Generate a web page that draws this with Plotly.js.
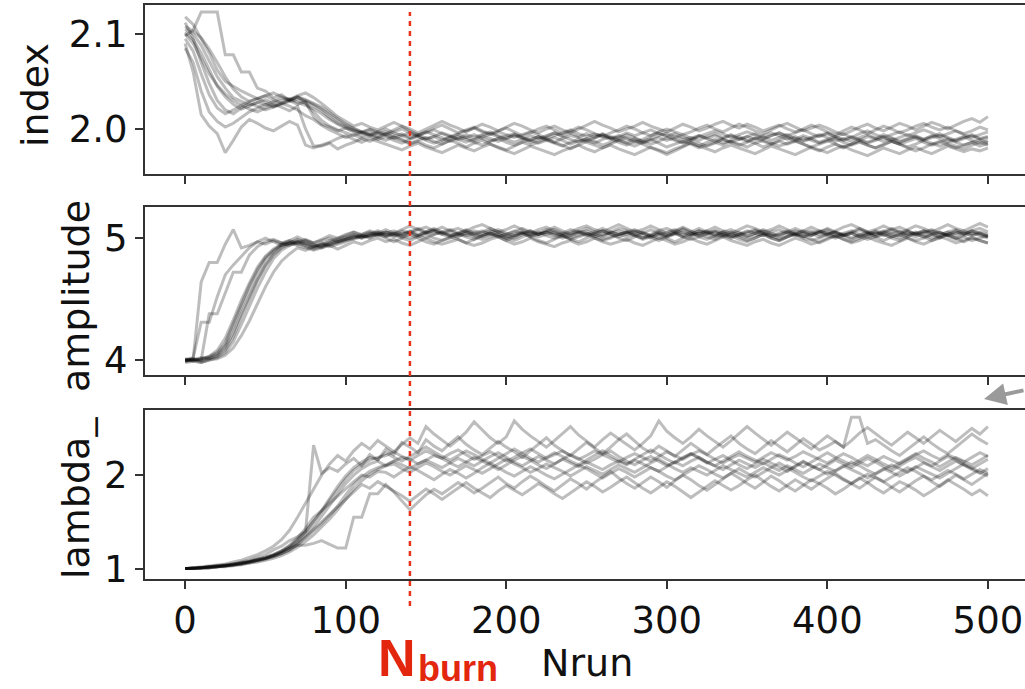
<!DOCTYPE html>
<html>
<head>
<meta charset="utf-8">
<script src="https://cdn.plot.ly/plotly-3.0.1.min.js"></script>
<style>
  html, body { margin: 0; padding: 0; background: #ffffff; }
  #chart { width: 1025px; height: 689px; }
</style>
</head>
<body>
<div id="chart"></div>
<script>
// ---------------- DATA ----------------
const STEPS = [0,5,10,15,20,25,30,35,40,45,50,55,60,65,70,75,80,85,90,95,100,105,110,115,120,125,130,135,140,145,150,155,160,165,170,175,180,185,190,195,200,205,210,215,220,225,230,235,240,245,250,255,260,265,270,275,280,285,290,295,300,305,310,315,320,325,330,335,340,345,350,355,360,365,370,375,380,385,390,395,400,405,410,415,420,425,430,435,440,445,450,455,460,465,470,475,480,485,490,495,500];

const PANEL_LABELS = ["index", "amplitude", "lambda_"];
const X_TICKS = [0, 100, 200, 300, 400, 500];
const INDEX_TICKS = [2.0, 2.1];
const INDEX_TICKTEXT = ["2.0", "2.1"];
const AMPLITUDE_TICKS = [4, 5];
const LAMBDA_TICKS = [1, 2];
const N_BURN = 140;
const X_LABEL = "Nrun";

// index walkers
const INDEX_W1 = [2.105,2.100,2.088,2.071,2.055,2.043,2.033,2.029,2.025,2.028,2.031,2.027,2.030,2.032,2.028,2.025,2.021,2.016,2.010,2.005,2.001,1.998,1.996,1.999,1.995,
1.997,1.993,1.995,1.991,1.994,1.990,1.992,1.996,1.993,1.989,1.991,1.994,1.990,1.987,1.990,1.993,1.995,1.991,1.988,1.992,1.989,1.986,1.990,1.993,1.991,
1.988,1.985,1.989,1.992,1.990,1.994,1.991,1.987,1.990,1.993,1.996,1.992,1.989,1.991,1.988,1.992,1.995,1.991,1.994,1.990,1.987,1.991,1.989,1.993,1.996,
1.992,1.989,1.993,1.990,1.986,1.989,1.992,1.995,1.991,1.988,1.992,1.990,1.994,1.991,1.987,1.990,1.993,1.989,1.992,1.995,1.991,1.988,1.991,1.994,1.990,1.992];
const INDEX_W2 = [2.112,2.095,2.070,2.048,2.030,2.020,2.016,2.022,2.027,2.024,2.020,2.023,2.026,2.029,2.031,2.027,2.018,2.009,2.003,1.999,1.996,1.993,1.997,1.994,1.991,
1.988,1.992,1.989,1.985,1.988,1.991,1.987,1.984,1.988,1.992,1.989,1.986,1.983,1.987,1.990,1.986,1.983,1.986,1.989,1.992,1.988,1.985,1.982,1.986,1.989,
1.986,1.983,1.980,1.984,1.988,1.985,1.982,1.986,1.989,1.985,1.981,1.984,1.987,1.984,1.980,1.983,1.986,1.983,1.987,1.984,1.981,1.985,1.988,1.985,1.982,
1.985,1.988,1.984,1.981,1.984,1.987,1.990,1.986,1.983,1.986,1.983,1.980,1.983,1.987,1.984,1.981,1.984,1.988,1.985,1.982,1.985,1.982,1.979,1.983,1.986,1.983];
const INDEX_W3 = [2.098,2.104,2.123,2.123,2.123,2.078,2.078,2.060,2.060,2.043,2.040,2.033,2.036,2.030,2.034,2.028,2.013,2.005,2.002,1.998,2.001,1.997,1.993,1.996,1.992,
1.995,1.999,2.003,1.998,1.994,1.997,2.001,2.004,2.000,1.996,1.999,2.002,1.998,1.995,1.998,2.001,1.997,1.993,1.996,2.000,2.003,1.999,1.995,1.998,2.002,
1.999,1.995,1.992,1.996,1.999,2.003,2.000,1.996,1.993,1.997,2.000,1.997,1.994,1.997,2.001,2.004,2.000,1.997,2.001,2.005,2.002,1.998,1.995,1.999,2.003,
2.006,2.002,1.998,2.001,2.004,2.001,1.997,1.994,1.998,2.002,2.005,2.001,1.998,2.002,2.006,2.003,1.999,2.003,2.007,2.004,2.000,2.004,2.008,2.011,2.007,2.013];
const INDEX_W4 = [2.090,2.060,2.015,2.003,1.995,1.975,1.988,2.002,2.010,2.006,2.001,1.998,2.003,2.008,2.004,1.983,1.980,1.983,1.986,1.990,1.993,1.989,1.986,1.990,1.987,
1.984,1.981,1.978,1.982,1.985,1.981,1.978,1.975,1.979,1.983,1.980,1.977,1.981,1.984,1.980,1.977,1.974,1.978,1.982,1.979,1.976,1.973,1.977,1.980,1.983,
1.979,1.976,1.980,1.983,1.979,1.976,1.973,1.977,1.981,1.978,1.975,1.979,1.982,1.986,1.982,1.979,1.976,1.980,1.983,1.980,1.977,1.974,1.978,1.982,1.979,
1.976,1.973,1.977,1.981,1.978,1.975,1.979,1.982,1.978,1.975,1.972,1.976,1.980,1.977,1.974,1.978,1.981,1.977,1.974,1.978,1.982,1.979,1.976,1.979,1.977,1.980];
const INDEX_W5 = [2.102,2.094,2.080,2.062,2.045,2.034,2.026,2.021,2.024,2.028,2.025,2.029,2.033,2.030,2.026,2.029,2.024,2.019,2.012,2.006,2.002,1.999,1.996,1.993,1.996,
1.993,1.990,1.993,1.996,1.992,1.989,1.992,1.988,1.991,1.994,1.991,1.988,1.991,1.995,1.992,1.989,1.986,1.989,1.993,1.990,1.993,1.996,1.992,1.989,1.986,
1.989,1.992,1.995,1.991,1.988,1.991,1.988,1.985,1.988,1.991,1.988,1.991,1.994,1.990,1.993,1.990,1.987,1.990,1.993,1.989,1.992,1.995,1.992,1.988,1.991,
1.994,1.990,1.987,1.990,1.993,1.996,1.992,1.989,1.992,1.989,1.986,1.989,1.992,1.988,1.991,1.994,1.991,1.988,1.991,1.993,1.990,1.987,1.990,1.993,1.989,1.991];
const INDEX_W6 = [2.108,2.103,2.096,2.084,2.070,2.055,2.042,2.034,2.029,2.032,2.035,2.031,2.027,2.030,2.033,2.030,2.026,2.021,2.015,2.009,2.004,2.000,1.997,2.000,1.997,
1.994,1.997,2.000,1.996,1.993,1.996,1.999,1.995,1.992,1.995,1.998,2.001,1.997,1.994,1.997,1.994,1.991,1.994,1.997,1.994,1.990,1.993,1.996,1.999,1.995,
1.992,1.995,1.992,1.989,1.992,1.996,1.993,1.996,1.999,1.995,1.992,1.995,1.991,1.988,1.992,1.995,1.998,1.995,1.991,1.994,1.997,1.994,1.990,1.993,1.996,
1.993,1.996,1.999,1.995,1.992,1.995,1.991,1.988,1.991,1.995,1.998,1.994,1.991,1.994,1.997,1.993,1.996,1.999,1.996,1.992,1.995,1.998,1.994,1.991,1.994,1.997];
const INDEX_W7 = [2.095,2.082,2.058,2.036,2.022,2.016,2.020,2.025,2.021,2.018,2.022,2.026,2.023,2.019,2.024,2.000,1.982,1.982,1.985,1.979,1.983,1.986,1.990,1.987,1.991,
1.995,1.991,1.988,1.984,1.987,1.983,1.980,1.984,1.988,1.985,1.981,1.985,1.988,1.984,1.981,1.978,1.982,1.986,1.983,1.986,1.990,1.986,1.983,1.979,1.983,
1.987,1.990,1.994,1.990,1.986,1.983,1.987,1.984,1.980,1.977,1.973,1.977,1.981,1.985,1.982,1.986,1.989,1.985,1.988,1.992,1.988,1.985,1.981,1.984,1.988,
1.991,1.987,1.984,1.980,1.977,1.981,1.984,1.980,1.984,1.987,1.983,1.980,1.984,1.987,1.984,1.980,1.977,1.980,1.984,1.987,1.983,1.980,1.983,1.986,1.982,1.985];
const INDEX_W8 = [2.100,2.090,2.074,2.058,2.046,2.037,2.030,2.025,2.029,2.032,2.028,2.024,2.027,2.031,2.034,2.031,2.027,2.023,2.017,2.011,2.005,2.001,1.997,1.994,1.997,
2.000,1.996,1.993,1.990,1.993,1.997,1.994,1.991,1.987,1.990,1.994,1.991,1.994,1.997,1.993,1.990,1.993,1.990,1.986,1.989,1.992,1.996,1.993,1.996,1.992,
1.995,1.991,1.994,1.990,1.993,1.990,1.986,1.989,1.993,1.996,1.993,1.989,1.986,1.989,1.993,1.990,1.993,1.989,1.986,1.989,1.992,1.989,1.993,1.996,1.993,
1.989,1.992,1.988,1.991,1.994,1.991,1.987,1.990,1.987,1.991,1.994,1.990,1.987,1.990,1.986,1.989,1.992,1.989,1.993,1.990,1.986,1.989,1.992,1.988,1.985,1.988];
const INDEX_W9 = [2.085,2.070,2.040,2.018,2.008,2.002,2.006,2.012,2.018,2.022,2.026,2.023,2.027,2.024,2.020,2.014,2.010,2.004,1.999,1.995,1.991,1.994,1.990,1.993,1.989,
1.992,1.988,1.985,1.989,1.992,1.988,1.985,1.988,1.992,1.989,1.986,1.989,1.993,1.990,1.987,1.990,1.994,1.991,1.988,1.985,1.988,1.991,1.988,1.984,1.987,
1.990,1.987,1.983,1.986,1.989,1.986,1.990,1.987,1.984,1.987,1.991,1.988,1.985,1.988,1.985,1.982,1.985,1.989,1.986,1.983,1.986,1.990,1.987,1.984,1.987,
1.984,1.987,1.991,1.988,1.985,1.988,1.984,1.981,1.984,1.988,1.985,1.988,1.991,1.987,1.984,1.987,1.990,1.986,1.983,1.986,1.989,1.986,1.983,1.986,1.989,1.985];
const INDEX_W10 = [2.118,2.110,2.095,2.080,2.062,2.050,2.045,2.040,2.036,2.032,2.035,2.038,2.034,2.031,2.035,2.038,2.033,2.027,2.020,2.013,2.008,2.003,2.006,2.002,1.999,
2.003,2.007,2.003,2.000,1.996,2.000,2.004,2.008,2.004,2.001,1.997,2.001,2.005,2.002,1.998,2.002,2.006,2.003,1.999,1.996,2.000,2.003,1.999,1.996,2.000,
2.004,2.008,2.004,2.001,1.997,2.000,2.003,2.007,2.003,2.000,1.997,2.001,2.005,2.002,1.998,2.001,2.005,2.008,2.004,2.001,2.005,2.002,1.998,2.001,2.004,
2.000,1.997,2.000,2.004,2.001,1.997,1.994,1.998,2.002,1.999,1.995,1.999,2.003,2.000,1.996,1.999,2.003,2.006,2.002,1.999,2.002,1.998,1.995,1.998,2.002,1.999];

// amplitude walkers
const AMP_W1 = [4.00,3.99,4.01,4.02,4.05,4.12,4.27,4.43,4.57,4.71,4.82,4.89,4.95,4.97,4.95,4.96,4.94,4.92,4.94,4.96,4.98,4.99,5.01,5.02,5.03,
5.05,5.03,5.06,5.04,5.02,5.05,5.07,5.04,5.02,5.04,5.06,5.03,5.01,5.03,5.05,5.03,5.06,5.04,5.01,5.03,5.05,5.07,5.04,5.02,5.04,
5.06,5.03,5.01,5.04,5.06,5.03,5.05,5.02,5.00,5.03,5.05,5.07,5.04,5.02,5.04,5.06,5.03,5.01,5.03,5.05,5.02,5.04,5.06,5.03,5.01,
5.03,5.06,5.04,5.02,5.05,5.07,5.04,5.02,5.04,5.01,5.03,5.05,5.02,5.04,5.06,5.03,5.01,5.04,5.06,5.03,5.05,5.02,5.04,5.06,5.03,5.01];
const AMP_W2 = [4.00,4.01,4.64,4.80,4.80,4.95,5.07,4.92,4.94,4.97,4.95,4.98,4.96,4.94,4.97,4.99,4.96,4.98,5.00,4.97,4.99,5.02,5.00,5.03,5.05,
5.02,5.04,5.07,5.10,5.07,5.04,5.06,5.09,5.06,5.03,5.06,5.09,5.11,5.08,5.05,5.07,5.10,5.07,5.04,5.07,5.09,5.06,5.03,5.05,5.08,
5.10,5.07,5.05,5.08,5.11,5.08,5.05,5.07,5.10,5.07,5.04,5.06,5.09,5.06,5.03,5.06,5.09,5.06,5.04,5.07,5.10,5.08,5.05,5.07,5.10,
5.07,5.04,5.06,5.09,5.06,5.03,5.06,5.09,5.11,5.08,5.05,5.07,5.10,5.07,5.04,5.07,5.10,5.08,5.05,5.08,5.11,5.08,5.06,5.09,5.12,5.09];
const AMP_W3 = [3.99,4.00,3.98,4.00,4.02,4.06,4.15,4.29,4.44,4.59,4.72,4.83,4.90,4.94,4.96,4.93,4.91,4.93,4.95,4.97,4.99,5.00,5.02,5.01,5.03,
5.01,5.03,5.00,4.98,5.01,5.03,5.00,4.98,5.00,5.02,5.04,5.01,4.99,5.01,5.03,5.00,4.98,5.01,5.03,5.05,5.02,5.00,5.02,4.99,5.01,
5.03,5.00,4.98,5.00,5.03,5.05,5.02,4.99,5.01,5.03,5.00,4.97,5.00,5.02,5.04,5.01,4.99,5.02,5.04,5.01,4.98,5.00,5.03,5.00,4.98,
5.01,5.03,5.00,4.98,5.00,5.03,5.05,5.02,4.99,5.02,5.04,5.01,4.98,5.01,5.03,5.00,4.98,5.00,5.03,5.05,5.02,4.99,5.01,4.98,5.00,5.02];
const AMP_W4 = [4.00,4.02,4.31,4.31,4.52,4.70,4.78,4.85,4.92,4.97,5.00,4.97,4.94,4.96,4.99,4.96,4.93,4.95,4.98,5.00,5.02,5.05,5.03,5.06,5.04,
5.07,5.04,5.01,5.04,5.07,5.09,5.06,5.03,5.06,5.08,5.05,5.02,5.05,5.08,5.05,5.02,5.00,5.03,5.06,5.03,5.06,5.09,5.06,5.03,5.05,
5.08,5.05,5.02,5.05,5.08,5.06,5.03,5.00,5.03,5.06,5.08,5.05,5.02,5.05,5.08,5.05,5.02,5.05,5.07,5.04,5.01,5.04,5.07,5.04,5.02,
5.05,5.08,5.05,5.02,5.05,5.08,5.05,5.02,5.04,5.07,5.04,5.01,5.04,5.07,5.09,5.06,5.03,5.06,5.03,5.00,5.03,5.06,5.03,5.06,5.08,5.05];
const AMP_W5 = [4.01,4.00,4.02,4.01,4.04,4.10,4.22,4.38,4.52,4.66,4.78,4.87,4.93,4.96,4.98,4.95,4.93,4.95,4.93,4.95,4.97,5.00,5.02,5.04,5.02,
5.04,5.06,5.03,5.05,5.08,5.05,5.03,5.05,5.02,5.04,5.07,5.04,5.02,5.05,5.07,5.04,5.02,5.04,5.06,5.03,5.05,5.02,5.04,5.07,5.05,
5.02,5.04,5.06,5.03,5.01,5.04,5.06,5.04,5.07,5.04,5.02,5.04,5.01,5.03,5.06,5.04,5.06,5.03,5.01,5.03,5.06,5.04,5.02,5.05,5.07,
5.04,5.02,5.04,5.06,5.03,5.05,5.02,5.04,5.06,5.03,5.01,5.04,5.06,5.04,5.02,5.05,5.03,5.05,5.07,5.04,5.02,5.04,5.06,5.03,5.05,5.03];
const AMP_W6 = [3.98,3.99,3.98,4.00,4.01,4.04,4.10,4.20,4.32,4.46,4.60,4.72,4.81,4.87,4.92,4.90,4.93,4.96,4.94,4.91,4.94,4.97,4.95,4.98,5.00,
4.97,4.99,4.96,4.94,4.97,5.00,4.97,4.95,4.97,4.99,4.96,4.94,4.96,4.99,5.01,4.98,4.95,4.97,5.00,4.97,4.95,4.93,4.96,4.98,4.95,
4.97,5.00,4.97,4.95,4.97,4.99,4.96,4.94,4.97,5.00,4.98,4.95,4.97,5.00,4.97,4.95,4.98,5.01,4.98,4.96,4.94,4.97,4.99,4.96,4.94,
4.97,5.00,4.98,4.95,4.97,5.00,5.02,4.99,4.96,4.98,5.01,4.98,4.96,4.94,4.97,5.00,4.97,4.95,4.98,5.01,4.99,4.96,4.98,5.01,4.98,4.96];
const AMP_W7 = [4.00,4.01,4.00,4.03,4.08,4.18,4.33,4.49,4.63,4.76,4.85,4.91,4.95,4.98,4.96,4.98,4.95,4.93,4.96,4.98,5.00,5.03,5.01,5.03,5.06,
5.03,5.01,5.03,5.05,5.02,5.00,5.03,5.05,5.07,5.04,5.02,5.04,5.06,5.03,5.01,5.03,5.05,5.08,5.05,5.03,5.05,5.03,5.00,5.02,5.05,
5.03,5.05,5.08,5.05,5.03,5.05,5.02,5.00,5.02,5.05,5.03,5.05,5.08,5.05,5.02,5.04,5.06,5.04,5.01,5.03,5.05,5.07,5.04,5.02,5.04,
5.06,5.03,5.01,5.04,5.06,5.04,5.01,5.03,5.05,5.08,5.05,5.03,5.05,5.02,5.00,5.03,5.05,5.03,5.00,5.02,5.05,5.07,5.04,5.02,5.04,5.01];
const AMP_W8 = [3.99,4.00,4.00,4.38,4.38,4.55,4.72,4.72,4.86,4.93,4.97,4.99,4.96,4.98,5.01,4.98,4.96,4.99,5.02,5.00,5.03,5.05,5.02,5.00,5.03,
5.00,4.97,5.00,5.03,5.00,4.97,4.95,4.98,5.01,4.99,4.96,4.99,5.02,5.04,5.01,4.98,5.01,5.04,5.01,4.98,4.96,4.99,5.02,4.99,4.97,
5.00,5.03,5.06,5.03,5.00,4.98,5.01,5.04,5.01,4.98,5.01,5.04,5.07,5.04,5.01,4.99,5.02,5.05,5.02,4.99,4.97,5.00,5.03,5.00,4.98,
5.01,5.04,5.02,4.99,4.96,4.99,5.02,4.99,4.97,5.00,5.03,5.06,5.03,5.00,4.98,5.01,5.04,5.01,4.98,5.00,5.03,5.00,4.97,5.00,4.98,4.96];
const AMP_W9 = [4.00,4.00,4.01,4.03,4.06,4.14,4.30,4.46,4.61,4.74,4.84,4.90,4.94,4.96,4.94,4.92,4.90,4.92,4.95,4.97,4.99,5.01,5.03,5.05,5.03,
5.05,5.02,5.04,5.06,5.03,5.05,5.08,5.05,5.03,5.01,5.04,5.06,5.04,5.06,5.03,5.01,5.03,5.05,5.02,5.04,5.07,5.04,5.02,5.04,5.06,
5.04,5.01,5.03,5.05,5.03,5.05,5.07,5.04,5.02,5.04,5.01,5.03,5.05,5.03,5.06,5.04,5.01,5.03,5.05,5.02,5.04,5.06,5.04,5.01,5.03,
5.05,5.03,5.06,5.04,5.01,5.03,5.05,5.03,5.00,5.03,5.05,5.03,5.05,5.08,5.05,5.02,5.04,5.06,5.04,5.01,5.03,5.05,5.03,5.06,5.04,5.02];
const AMP_W10 = [3.99,4.01,3.99,4.01,4.03,4.08,4.19,4.35,4.50,4.65,4.77,4.86,4.92,4.95,4.97,4.94,4.92,4.94,4.97,4.99,5.01,5.02,5.00,5.02,5.04,
5.02,5.04,5.02,5.00,5.02,5.04,5.06,5.03,5.01,5.03,5.01,4.99,5.02,5.04,5.02,5.00,5.02,5.05,5.03,5.01,5.03,5.05,5.02,5.00,5.02,
5.04,5.02,4.99,5.01,5.03,5.01,5.03,5.05,5.02,5.00,5.02,5.04,5.01,4.99,5.01,5.03,5.05,5.02,5.00,5.02,5.00,5.02,5.04,5.02,4.99,
5.01,5.03,5.01,5.03,5.05,5.02,5.00,5.02,5.04,5.01,4.99,5.01,5.03,5.01,5.03,5.06,5.03,5.01,5.03,5.05,5.02,5.00,5.02,5.04,5.02,5.00];

// lambda_ walkers
const LAM_W1 = [1.00,1.00,1.01,1.01,1.02,1.03,1.04,1.05,1.06,1.08,1.10,1.13,1.16,1.20,1.26,1.33,1.40,1.48,1.57,1.67,1.79,1.90,1.98,2.04,2.08,
2.11,2.15,2.19,2.17,2.12,2.16,2.21,2.18,2.13,2.09,2.14,2.19,2.15,2.20,2.24,2.19,2.14,2.10,2.15,2.20,2.16,2.12,2.17,2.22,2.18,
2.13,2.17,2.22,2.26,2.20,2.15,2.11,2.16,2.20,2.15,2.10,2.14,2.19,2.23,2.18,2.13,2.17,2.21,2.16,2.11,2.07,2.12,2.17,2.13,2.09,
2.04,2.09,2.14,2.10,2.06,2.11,2.16,2.12,2.08,2.13,2.18,2.14,2.09,2.05,2.10,2.15,2.19,2.14,2.10,2.15,2.20,2.16,2.11,2.07,2.12,2.17];
const LAM_W2 = [1.00,1.01,1.01,1.02,1.03,1.04,1.05,1.07,1.09,1.12,1.15,1.20,1.24,1.30,1.34,1.40,2.32,2.02,2.08,2.04,2.12,2.18,2.10,2.22,2.16,
2.28,2.22,2.35,2.30,2.24,2.38,2.31,2.26,2.34,2.41,2.33,2.27,2.22,2.29,2.36,2.30,2.25,2.19,2.26,2.33,2.40,2.32,2.26,2.21,2.28,
2.35,2.29,2.23,2.30,2.38,2.44,2.36,2.29,2.24,2.31,2.26,2.20,2.27,2.34,2.28,2.22,2.29,2.36,2.42,2.34,2.28,2.23,2.30,2.37,2.31,
2.25,2.32,2.39,2.33,2.27,2.31,2.36,2.30,2.62,2.62,2.34,2.38,2.32,2.26,2.21,2.28,2.35,2.41,2.34,2.28,2.23,2.30,2.37,2.44,2.38,2.33];
const LAM_W3 = [1.00,1.00,1.00,1.01,1.02,1.02,1.03,1.04,1.06,1.07,1.09,1.11,1.14,1.18,1.23,1.29,1.36,1.44,1.53,1.63,1.74,1.85,1.94,2.01,2.06,
2.10,2.12,2.07,2.03,2.08,2.13,2.09,2.04,2.00,2.05,2.10,2.06,2.02,2.07,2.12,2.17,2.12,2.08,2.03,2.07,2.12,2.08,2.04,1.99,2.04,
2.09,2.05,2.01,2.06,2.11,2.07,2.03,2.08,2.13,2.17,2.12,2.07,2.03,2.08,2.04,2.00,2.05,2.10,2.06,2.02,1.98,2.03,2.08,2.04,2.00,
2.05,2.10,2.15,2.10,2.06,2.01,2.05,2.10,2.06,2.02,1.97,2.02,2.07,2.03,1.99,2.04,2.09,2.05,2.01,1.97,2.02,2.07,2.12,2.08,2.03,1.99];
const LAM_W4 = [1.00,1.00,1.01,1.01,1.02,1.03,1.04,1.05,1.07,1.09,1.11,1.14,1.18,1.22,1.25,1.25,1.27,1.30,1.26,1.22,1.22,1.55,1.55,1.80,1.80,
1.90,1.82,1.72,1.63,1.71,1.79,1.85,1.80,1.86,1.92,1.87,1.81,1.86,1.92,1.98,1.91,1.86,1.93,1.99,1.94,1.88,1.83,1.90,1.96,1.91,
1.85,1.92,1.98,2.04,1.97,1.91,1.86,1.92,1.98,1.93,1.87,1.94,2.00,1.95,1.89,1.84,1.90,1.96,2.02,1.97,1.91,1.86,1.93,1.99,1.94,
1.88,1.83,1.89,1.95,1.91,1.86,1.80,1.85,1.91,1.97,1.92,1.86,1.81,1.87,1.93,1.89,1.84,1.78,1.83,1.89,1.95,1.90,1.85,1.79,1.84,1.78];
const LAM_W5 = [1.00,1.01,1.01,1.02,1.03,1.04,1.05,1.06,1.08,1.10,1.12,1.15,1.19,1.24,1.31,1.40,1.50,1.61,1.73,1.85,1.96,2.05,2.11,2.16,2.19,
2.21,2.25,2.20,2.16,2.21,2.26,2.22,2.18,2.23,2.27,2.22,2.17,2.21,2.25,2.20,2.15,2.19,2.24,2.28,2.23,2.18,2.22,2.26,2.21,2.17,
2.21,2.26,2.22,2.18,2.14,2.19,2.23,2.19,2.15,2.20,2.25,2.21,2.17,2.22,2.26,2.22,2.17,2.13,2.18,2.22,2.18,2.14,2.19,2.24,2.20,
2.16,2.20,2.25,2.21,2.17,2.13,2.18,2.23,2.19,2.14,2.10,2.15,2.20,2.16,2.12,2.17,2.22,2.26,2.21,2.17,2.22,2.18,2.14,2.19,2.24,2.20];
const LAM_W6 = [1.00,1.01,1.02,1.03,1.04,1.05,1.07,1.09,1.12,1.15,1.19,1.24,1.31,1.41,1.55,1.70,1.86,2.00,2.12,2.21,2.15,2.26,2.34,2.28,2.37,
2.31,2.25,2.33,2.40,2.34,2.52,2.44,2.37,2.31,2.38,2.46,2.57,2.48,2.40,2.34,2.41,2.58,2.49,2.42,2.36,2.30,2.37,2.45,2.52,2.43,
2.36,2.30,2.38,2.45,2.39,2.33,2.27,2.34,2.42,2.58,2.47,2.40,2.34,2.41,2.49,2.42,2.36,2.30,2.37,2.44,2.52,2.45,2.38,2.32,2.39,
2.46,2.40,2.34,2.28,2.35,2.42,2.36,2.30,2.37,2.45,2.51,2.44,2.38,2.32,2.39,2.46,2.40,2.34,2.41,2.48,2.42,2.36,2.43,2.50,2.44,2.52];
const LAM_W7 = [1.00,1.00,1.01,1.02,1.02,1.03,1.04,1.06,1.07,1.09,1.11,1.13,1.16,1.20,1.26,1.34,1.42,1.50,1.58,1.66,1.74,1.82,1.90,1.86,1.93,
1.88,1.83,1.78,1.72,1.79,1.85,1.80,1.74,1.80,1.86,1.92,1.86,1.81,1.76,1.83,1.89,1.84,1.79,1.85,1.91,1.86,1.80,1.75,1.81,1.87,
1.93,1.88,1.82,1.87,1.93,1.98,1.92,1.86,1.81,1.87,1.93,1.88,1.82,1.76,1.82,1.88,1.94,1.89,1.84,1.89,1.95,2.00,1.94,1.88,1.83,
1.89,1.95,1.90,1.85,1.91,1.97,2.02,1.96,1.91,1.86,1.92,1.98,1.93,1.87,1.82,1.88,1.94,1.99,1.93,1.88,1.94,2.00,1.95,1.90,1.96,2.02];
const LAM_W8 = [1.00,1.00,1.01,1.01,1.02,1.03,1.04,1.05,1.07,1.09,1.11,1.14,1.17,1.22,1.28,1.36,1.45,1.56,1.68,1.80,1.91,2.00,2.07,2.12,2.15,
2.10,2.15,2.11,2.07,2.12,2.16,2.12,2.08,2.13,2.18,2.14,2.10,2.15,2.11,2.06,2.11,2.16,2.20,2.16,2.11,2.07,2.12,2.17,2.13,2.09,
2.14,2.10,2.06,2.11,2.15,2.11,2.16,2.12,2.08,2.04,2.09,2.14,2.10,2.15,2.19,2.14,2.10,2.06,2.11,2.16,2.12,2.08,2.13,2.09,2.05,
2.10,2.06,2.02,2.07,2.12,2.08,2.04,2.09,2.14,2.10,2.05,2.01,2.06,2.11,2.07,2.03,2.08,2.13,2.09,2.05,2.10,2.15,2.11,2.06,2.02,2.07];
const LAM_W9 = [1.00,1.00,1.01,1.02,1.02,1.03,1.05,1.06,1.08,1.10,1.12,1.15,1.19,1.25,1.33,1.43,1.55,1.62,1.70,1.78,1.86,1.93,2.00,1.98,2.04,
2.03,1.98,2.04,2.09,2.05,2.00,1.95,2.01,2.06,2.02,1.97,2.02,2.08,2.13,2.08,2.03,1.99,2.04,2.09,2.05,2.00,1.96,2.01,2.06,2.11,
2.07,2.02,1.97,2.02,2.07,2.03,1.98,2.03,2.08,2.04,1.99,1.95,2.00,2.05,2.10,2.06,2.01,1.97,2.02,2.07,2.02,1.98,2.03,2.08,2.13,
2.08,2.03,1.98,1.94,1.99,2.04,2.00,1.95,1.91,1.96,2.01,1.97,1.93,1.98,2.03,2.08,2.04,1.99,1.95,2.00,2.05,2.01,1.96,2.01,2.06,2.02];
const LAM_W10 = [1.00,1.01,1.01,1.02,1.03,1.03,1.04,1.06,1.07,1.09,1.11,1.14,1.18,1.23,1.30,1.39,1.50,1.62,1.75,1.88,1.99,2.08,2.14,2.19,2.17,
2.24,2.19,2.15,2.20,2.25,2.30,2.25,2.20,2.16,2.21,2.26,2.22,2.17,2.13,2.18,2.23,2.28,2.23,2.18,2.14,2.19,2.24,2.20,2.15,2.11,
2.16,2.21,2.26,2.21,2.16,2.12,2.17,2.22,2.27,2.22,2.17,2.13,2.18,2.23,2.19,2.14,2.10,2.15,2.20,2.25,2.20,2.16,2.12,2.17,2.22,
2.18,2.13,2.09,2.14,2.19,2.24,2.19,2.15,2.11,2.16,2.21,2.17,2.12,2.08,2.13,2.18,2.23,2.18,2.14,2.09,2.14,2.19,2.15,2.11,2.16,2.21];

const INDEX_WALKERS = [INDEX_W1, INDEX_W2, INDEX_W3, INDEX_W4, INDEX_W5, INDEX_W6, INDEX_W7, INDEX_W8, INDEX_W9, INDEX_W10];
const AMP_WALKERS = [AMP_W1, AMP_W2, AMP_W3, AMP_W4, AMP_W5, AMP_W6, AMP_W7, AMP_W8, AMP_W9, AMP_W10];
const LAM_WALKERS = [LAM_W1, LAM_W2, LAM_W3, LAM_W4, LAM_W5, LAM_W6, LAM_W7, LAM_W8, LAM_W9, LAM_W10];

// ---------------- STYLE ----------------
const W = 1025, H = 689, ML = 145;
const px2x = p => (p - ML) / (W - ML);
const py2y = p => 1 - p / H;
const LINE_COLOR = 'rgba(0,0,0,0.26)';
const SPINE = '#333333';
const FONT = 'DejaVu Sans, sans-serif';

const traces = [];
[[INDEX_WALKERS, 'x', 'y'], [AMP_WALKERS, 'x2', 'y2'], [LAM_WALKERS, 'x3', 'y3']].forEach(([walkers, xa, ya]) => {
  walkers.forEach(w => {
    traces.push({
      type: 'scatter', mode: 'lines', x: STEPS, y: w, xaxis: xa, yaxis: ya,
      line: {color: LINE_COLOR, width: 3}, hoverinfo: 'skip', showlegend: false
    });
  });
});

function xAxis(anchor, showLabels) {
  return {
    anchor: anchor, range: [-25, 523.1], tickvals: X_TICKS, ticktext: X_TICKS.map(String),
    showticklabels: showLabels, ticks: 'outside', ticklen: 8, tickwidth: 2, tickcolor: SPINE,
    showline: true, linecolor: SPINE, linewidth: 2, mirror: true,
    showgrid: false, zeroline: false, fixedrange: true,
    tickfont: {family: FONT, size: 37, color: '#111'}
  };
}
function yAxis(domain, range, vals, text) {
  return {
    domain: domain, range: range, tickvals: vals, ticktext: text,
    ticks: 'outside', ticklen: 8, tickwidth: 2, tickcolor: SPINE,
    showline: true, linecolor: SPINE, linewidth: 2, mirror: false,
    showgrid: false, zeroline: false, fixedrange: true,
    tickfont: {family: FONT, size: 37, color: '#111'}
  };
}

const layout = {
  width: W, height: H,
  margin: {l: ML, r: 0, t: 0, b: 0, pad: 0},
  paper_bgcolor: '#ffffff', plot_bgcolor: '#ffffff',
  showlegend: false, hovermode: false,
  xaxis: xAxis('y', false),
  xaxis2: xAxis('y2', false),
  xaxis3: xAxis('y3', true),
  yaxis: yAxis([py2y(174), py2y(5)], [1.9526, 2.1305], INDEX_TICKS, INDEX_TICKTEXT),
  yaxis2: yAxis([py2y(375), py2y(207)], [3.877, 5.255], AMPLITUDE_TICKS, AMPLITUDE_TICKS.map(String)),
  yaxis3: yAxis([py2y(579), py2y(410)], [0.889, 2.697], LAMBDA_TICKS, LAMBDA_TICKS.map(String)),
  shapes: [{
    type: 'line', xref: 'x3', yref: 'paper', x0: N_BURN, x1: N_BURN,
    y0: py2y(606), y1: py2y(12),
    line: {color: '#e8321a', width: 2.5, dash: '5px,5px'}, layer: 'above'
  }],
  annotations: [
    {text: PANEL_LABELS[0], xref: 'paper', yref: 'paper', x: px2x(35), y: py2y(95), textangle: -90,
     showarrow: false, xanchor: 'center', yanchor: 'middle', font: {family: FONT, size: 38, color: '#111'}},
    {text: PANEL_LABELS[1], xref: 'paper', yref: 'paper', x: px2x(76), y: py2y(296), textangle: -90,
     showarrow: false, xanchor: 'center', yanchor: 'middle', font: {family: FONT, size: 38, color: '#111'}},
    {text: PANEL_LABELS[2], xref: 'paper', yref: 'paper', x: px2x(76), y: py2y(498), textangle: -90,
     showarrow: false, xanchor: 'center', yanchor: 'middle', font: {family: FONT, size: 38, color: '#111'}},
    {text: X_LABEL, xref: 'paper', yref: 'paper', x: px2x(587), y: py2y(663),
     showarrow: false, xanchor: 'center', yanchor: 'middle', font: {family: FONT, size: 38, color: '#111'}},
    {text: '<b>N</b>', xref: 'paper', yref: 'paper', x: px2x(376), y: py2y(658),
     showarrow: false, xanchor: 'left', yanchor: 'middle', font: {family: 'Liberation Sans, Arial, sans-serif', size: 52, color: '#e3260e'}},
    {text: '<b>burn</b>', xref: 'paper', yref: 'paper', x: px2x(416), y: py2y(668),
     showarrow: false, xanchor: 'left', yanchor: 'middle', font: {family: 'Liberation Sans, Arial, sans-serif', size: 36, color: '#e3260e'}},
    {text: '', xref: 'paper', yref: 'paper', x: px2x(984), y: py2y(399),
     showarrow: true, axref: 'pixel', ayref: 'pixel', ax: 50, ay: -9,
     arrowhead: 2, arrowsize: 1.1, arrowwidth: 4, arrowcolor: '#9a9a9a'}
  ]
};

Plotly.newPlot('chart', traces, layout, {staticPlot: true, displayModeBar: false});
</script>
</body>
</html>
